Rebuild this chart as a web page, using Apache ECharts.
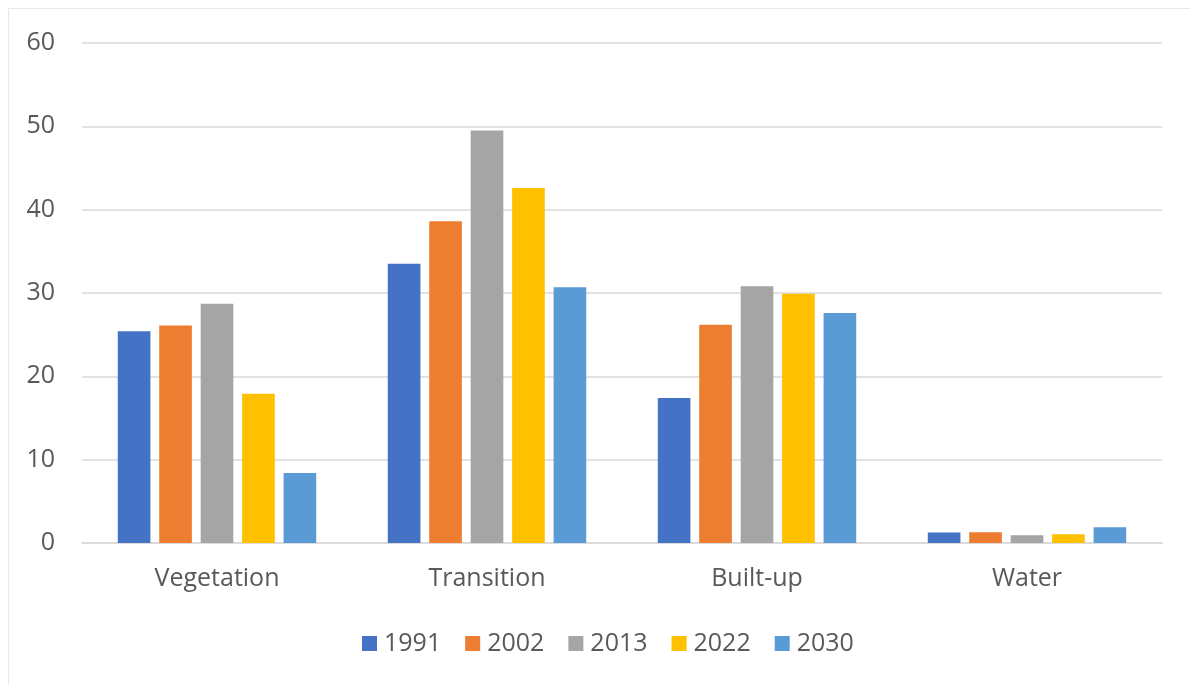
<!DOCTYPE html>
<html>
<head>
<meta charset="utf-8">
<script src="https://cdn.jsdelivr.net/npm/echarts@6/dist/echarts.min.js"></script>
<style>
html,body{margin:0;padding:0;background:#fff;}
#c{width:1190px;height:684px;}
</style>
</head>
<body>
<div id="c"></div>
<script>
const categories = ['Vegetation', 'Transition', 'Built-up', 'Water'];
const years = ['1991', '2002', '2013', '2022', '2030'];
const v1991 = [25.4, 33.5, 17.4, 1.25];
const v2002 = [26.1, 38.6, 26.2, 1.28];
const v2013 = [28.7, 49.5, 30.8, 0.92];
const v2022 = [17.9, 42.6, 29.9, 1.05];
const v2030 = [8.4, 30.7, 27.6, 1.88];
const seriesValues = [v1991, v2002, v2013, v2022, v2030];
const colors = ['#4472C4', '#ED7D31', '#A5A5A5', '#FFC000', '#5B9BD5'];

const chart = echarts.init(document.getElementById('c'));
const font = '"Open Sans", "Noto Sans", sans-serif';
chart.setOption({
  animation: false,
  color: colors,
  textStyle: { fontFamily: font },
  graphic: [{
    type: 'rect', silent: true, z: -10,
    shape: { x: 8.5, y: 8.5, width: 1200, height: 700 },
    style: { fill: 'none', stroke: '#e8e8e8', lineWidth: 1 }
  }],
  grid: { left: 82, right: 28, top: 43, bottom: 141, containLabel: false },
  legend: {
    data: years,
    top: 626,
    left: 357,
    itemWidth: 15, itemHeight: 15, itemGap: 24,
    icon: 'rect',
    textStyle: { fontSize: 25, color: '#595959', fontFamily: font, padding: [0, 0, 0, 2] }
  },
  xAxis: {
    type: 'category',
    data: categories,
    axisLine: { lineStyle: { color: '#d9d9d9', width: 1.5 } },
    axisTick: { show: false },
    axisLabel: { fontSize: 25, color: '#595959', margin: 23, fontFamily: font }
  },
  yAxis: {
    type: 'value',
    min: 0, max: 60, interval: 10,
    axisLine: { show: false },
    axisTick: { show: false },
    splitLine: { lineStyle: { color: '#d9d9d9', width: 1.5 } },
    axisLabel: { fontSize: 25, color: '#595959', margin: 27, fontFamily: font }
  },
  series: years.map((y, i) => ({
    name: y,
    type: 'bar',
    data: seriesValues[i],
    barGap: '27%',
    barCategoryGap: '26.5%',
    itemStyle: { color: colors[i] }
  }))
});
</script>
</body>
</html>
